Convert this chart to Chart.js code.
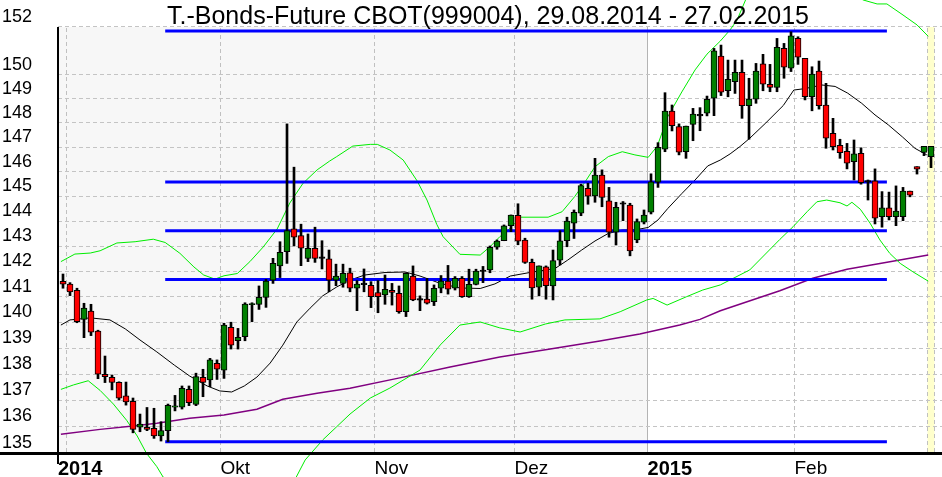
<!DOCTYPE html>
<html>
<head>
<meta charset="utf-8">
<script src="https://cdn.jsdelivr.net/npm/chart.js@4.4.1/dist/chart.umd.min.js"></script>
<style>
  html, body { margin: 0; padding: 0; background: #fff; }
  #chart { display: block; }
</style>
</head>
<body>
<canvas id="chart" width="942" height="477"></canvas>
<script>
// daily candles 29.08.2014 - 27.02.2015, one slot per trading day (0..124)
const opens = [
  141.11, 141.00, 140.76, 139.62, 139.94, 139.17, 137.50, 137.38, 137.19, 136.67,
  136.46, 135.48, 135.48, 135.44, 135.15, 135.35, 136.24, 136.24, 136.92, 136.35,
  137.38, 137.28, 137.92, 137.66, 139.31, 138.79, 138.95, 140.20, 140.21, 140.48,
  141.16, 141.72, 142.28, 143.19, 142.92, 142.02, 142.42, 142.06, 142.00, 141.16,
  141.03, 141.45, 140.84, 141.00, 140.95, 140.67, 140.58, 140.76, 140.64, 139.92,
  141.32, 140.41, 140.41, 140.31, 140.84, 141.12, 140.84, 141.23, 140.51, 140.99,
  141.52, 141.56, 142.46, 142.72, 143.32, 143.74, 142.75, 141.86, 140.88, 141.68,
  140.93, 141.95, 142.72, 143.42, 143.82, 144.82, 144.52, 145.36, 144.32, 143.06,
  144.20, 144.15, 142.75, 143.46, 143.86, 145.07, 146.41, 147.98, 147.34, 146.31,
  147.43, 147.80, 147.89, 148.51, 150.27, 148.82, 149.20, 149.59, 148.20, 148.47,
  149.94, 149.09, 148.96, 150.59, 149.76, 151.01, 150.17, 148.57, 149.64, 148.23,
  147.06, 146.57, 146.33, 145.90, 146.24, 145.12, 145.13, 143.68, 144.04, 143.68,
  143.68, 144.71, 145.70, 146.28, 146.11
];
const highs = [
  141.40, 141.06, 140.84, 140.25, 140.21, 139.20, 138.20, 137.47, 137.21, 137.20,
  136.59, 135.98, 136.23, 136.20, 135.69, 136.36, 136.69, 137.05, 137.05, 137.54,
  137.69, 138.11, 138.05, 139.47, 139.51, 139.27, 140.27, 140.27, 140.93, 141.19,
  142.02, 142.68, 147.45, 145.68, 143.38, 142.99, 143.26, 142.72, 142.35, 141.79,
  141.79, 141.63, 141.14, 141.60, 141.10, 141.14, 141.36, 141.03, 140.93, 141.45,
  141.72, 140.54, 141.23, 140.97, 141.34, 141.74, 141.30, 141.30, 141.59, 141.59,
  141.70, 142.51, 142.75, 143.35, 143.75, 144.20, 142.82, 141.99, 141.72, 141.72,
  142.35, 143.12, 143.66, 143.95, 144.99, 145.03, 146.04, 145.57, 144.86, 144.26,
  144.29, 144.22, 143.59, 143.95, 145.41, 146.68, 148.74, 148.23, 147.45, 147.36,
  148.09, 148.12, 148.60, 150.59, 150.73, 150.10, 150.10, 150.10, 149.34, 149.96,
  150.34, 149.92, 151.01, 150.80, 151.29, 151.08, 150.17, 149.82, 150.06, 149.13,
  147.68, 146.82, 146.65, 146.79, 146.47, 145.16, 145.61, 144.69, 144.67, 144.92,
  144.86, 144.71, 145.70, 146.53, 146.53
];
const lows = [
  140.84, 140.55, 139.49, 138.91, 138.99, 137.33, 137.18, 136.90, 136.51, 136.32,
  135.27, 135.31, 135.35, 135.06, 134.96, 134.93, 136.10, 136.17, 136.30, 136.30,
  136.64, 137.02, 137.30, 137.34, 138.47, 138.47, 138.79, 139.53, 140.01, 140.09,
  141.03, 141.26, 141.82, 142.51, 141.73, 141.89, 141.86, 141.60, 140.70, 140.94,
  140.88, 140.70, 139.96, 140.70, 140.08, 139.88, 140.21, 140.18, 139.86, 139.73,
  140.35, 139.96, 140.22, 140.16, 140.66, 140.61, 140.77, 140.48, 140.48, 140.97,
  141.06, 141.45, 142.38, 142.72, 143.08, 142.56, 141.82, 140.41, 140.54, 140.41,
  140.38, 141.76, 142.48, 142.81, 143.72, 144.18, 144.26, 144.08, 142.86, 142.55,
  143.52, 142.12, 142.64, 143.39, 143.79, 144.86, 146.31, 147.16, 146.18, 146.04,
  146.76, 147.17, 147.78, 147.79, 148.62, 148.57, 148.71, 147.68, 146.82, 148.30,
  148.82, 148.78, 148.78, 149.34, 149.62, 149.92, 148.44, 147.99, 148.06, 146.45,
  146.38, 146.04, 145.61, 145.16, 144.99, 144.35, 143.39, 143.26, 143.55, 143.32,
  143.52, 144.48, 145.40, 146.15, 145.66
];
const closes = [
  141.00, 140.70, 139.53, 140.06, 139.12, 137.50, 137.41, 137.19, 136.58, 136.44,
  135.40, 135.60, 135.40, 135.15, 135.35, 136.31, 136.29, 136.96, 136.41, 137.41,
  137.19, 138.05, 137.69, 139.40, 138.62, 138.92, 140.22, 140.24, 140.48, 141.12,
  141.82, 142.26, 143.12, 142.86, 142.42, 142.42, 142.02, 142.04, 141.16, 141.32,
  141.43, 140.84, 141.00, 141.02, 140.51, 140.51, 140.80, 140.68, 139.92, 141.43,
  140.38, 140.39, 140.25, 140.84, 141.12, 140.80, 141.23, 140.51, 140.99, 141.52,
  141.54, 142.46, 142.71, 143.31, 143.75, 142.70, 141.86, 140.85, 141.72, 140.94,
  141.93, 142.72, 143.50, 143.86, 144.93, 144.51, 145.36, 144.46, 143.06, 144.06,
  144.22, 142.31, 143.48, 143.75, 145.09, 146.49, 147.98, 147.38, 146.29, 147.36,
  147.85, 147.82, 148.46, 150.49, 148.76, 149.30, 149.59, 148.20, 148.47, 149.64,
  149.09, 148.96, 150.64, 149.80, 151.12, 150.22, 148.57, 149.51, 148.20, 146.86,
  146.52, 146.27, 145.84, 146.22, 145.05, 145.10, 143.62, 144.04, 143.68, 143.91,
  144.71, 144.55, 145.60, 146.53, 146.53
];

// indicator lines as [slot, price]
const sma20 = [
  [-0.3, 139.40], [1, 139.60], [3.9, 139.68], [6.7, 139.60], [8.9, 139.25], [11, 138.82],
  [13.4, 138.36], [15.9, 137.85], [18.1, 137.43], [20.6, 137.05], [22.4, 136.86], [24.1, 136.82],
  [25.9, 137.05], [27.7, 137.39], [29.6, 137.93], [31.4, 138.62], [33.4, 139.52], [35.3, 140.06],
  [37.1, 140.54], [39.1, 140.89], [41, 141.16], [43.1, 141.36], [46, 141.46], [48.9, 141.48],
  [51, 141.32], [53.9, 141.03], [56.7, 140.85], [59.6, 140.83], [61.7, 141.01], [63.9, 141.32],
  [66.7, 141.46], [70.3, 141.62], [72.1, 141.95], [74.1, 142.35], [76, 142.71], [77.9, 143.01],
  [79.9, 143.15], [81.7, 143.15], [83.6, 143.25], [85, 143.55], [86.4, 144.01], [88.4, 144.61],
  [90.3, 145.16], [92.1, 145.73], [93.9, 145.97], [95.3, 146.22], [96.7, 146.52], [98.1, 146.86],
  [100.4, 147.49], [102.9, 148.21], [104.4, 148.85], [106, 148.91], [108.4, 149.06], [110.3, 149.00],
  [112.1, 148.72], [114.1, 148.30], [116, 147.82], [117.9, 147.41], [119.9, 146.92], [121.7, 146.45],
  [123.4, 146.18]
];
const bbUpper = [
  [-0.3, 141.89], [1.7, 142.19], [3.9, 142.23], [5.3, 142.32], [7.7, 142.63], [10.3, 142.68],
  [12.9, 142.78], [14.6, 142.65], [16.7, 142.22], [18.7, 141.68], [20.1, 141.36], [21.7, 141.20],
  [23, 141.33], [24.9, 141.42], [26.7, 141.89], [28.6, 142.47], [30.6, 143.19], [32.4, 144.23],
  [34.3, 145.03], [36.3, 145.57], [38.1, 145.93], [39.1, 146.11], [41.4, 146.54], [43.9, 146.61],
  [44.9, 146.61], [46.7, 146.38], [48.6, 145.97], [50.6, 145.12], [52, 144.35], [53.4, 143.37],
  [54.3, 142.88], [56.7, 142.18], [59.6, 142.15], [61, 142.48], [62.4, 142.88], [63.4, 143.08],
  [65.3, 143.66], [69.3, 143.66], [71.3, 143.88], [73.1, 144.49], [74.6, 145.09], [76, 145.70],
  [77.9, 146.11], [79.9, 146.31], [81.7, 146.18], [83.6, 146.08], [84.9, 146.54], [86.4, 147.75],
  [88.4, 148.77], [90.3, 149.69], [92, 150.35], [93.9, 150.90], [95.3, 151.37], [96.3, 151.79],
  [98.1, 153.06], [103.9, 153.92], [109.6, 153.50], [114.3, 152.64], [116.3, 152.47], [117.7, 152.47],
  [120, 152.00], [122, 151.58], [123.6, 151.10]
];
const bbLower = [
  [-0.3, 136.92], [1.5, 137.09], [3.6, 137.25], [5.3, 136.88], [7.2, 136.36], [9.1, 135.74],
  [10.6, 135.15], [11.9, 134.51], [13.4, 134.00], [14.3, 133.61], [19.6, 132.76], [26.7, 132.76],
  [33.1, 133.50], [34.6, 134.25], [37.1, 135.00], [39.1, 135.50], [41, 135.98], [43.9, 136.59],
  [46.7, 136.97], [51, 137.66], [53.9, 138.63], [56.7, 139.40], [59.6, 139.52], [62.4, 139.29],
  [65.3, 139.13], [68.9, 139.44], [71.7, 139.60], [76.7, 139.64], [79.6, 139.92], [83.4, 140.38],
  [84.3, 140.44], [86.3, 140.18], [89.1, 140.51], [91.4, 140.77], [93.9, 140.97], [98.1, 141.56],
  [102.4, 142.77], [104.3, 143.28], [106.3, 143.88], [107.7, 144.28], [109.1, 144.35], [111, 144.24],
  [112, 144.11], [112.7, 144.26], [113.9, 143.98], [115.3, 143.42], [116.7, 142.75], [118.1, 142.22],
  [119.6, 141.82], [121.4, 141.49], [123.6, 141.12]
];
const sma200 = [
  [-0.3, 135.22], [5.3, 135.40], [10, 135.53], [13.4, 135.63], [18.1, 135.82], [23, 135.94],
  [27.7, 136.16], [31.4, 136.54], [36.3, 136.77], [41, 136.96], [48.1, 137.36], [55.3, 137.78],
  [62.4, 138.16], [69.6, 138.47], [76.7, 138.78], [82.4, 139.05], [88.1, 139.40], [91, 139.62],
  [93.9, 139.96], [102.4, 140.74], [107.1, 141.23], [112, 141.59], [116.7, 141.82], [123.6, 142.15]
];

// high, 38.2 %, 50 %, 61.8 %, low
const levels = [151.32, 145.08, 143.12, 141.18, 134.93];
const levelFrom = 14.6, levelTo = 117.7;

const xTickValues = [-0.714, 0.5, 22.5, 44.5, 64.5, 83.5, 104.5, 123.5, 124.5];
const xTickLabels = ['2014', '', 'Okt', 'Nov', 'Dez', '2015', 'Feb', '', ''];
const yLabels = [135, 136, 137, 138, 139, 140, 141, 142, 143, 144, 145, 146, 147, 148, 149, 150, 152];
const yGrid = [135.5, 136.5, 137.5, 138.5, 139.5, 140.5, 141.5, 142.5, 143.5, 144.5, 145.5,
  146.5, 147.5, 148.5, 149.5, 151.5];

const TITLE = 'T.-Bonds-Future CBOT(999004), 29.08.2014 - 27.02.2015';
const FONT = '"Liberation Sans", Arial, sans-serif';
const LABEL_NUDGE = 0.1; // the labels sit a touch under their value

// y ticks: grid-only ticks and label-only ticks
const yTicks = yGrid.map(v => ({ value: v, label: '', grid: true }))
  .concat(yLabels.map(v => ({ value: v - LABEL_NUDGE, label: String(v), grid: false })));

const slots = opens.map((o, i) => i);
const isDoji = i => Math.abs(closes[i] - opens[i]) < 0.04;
const bodies = slots.map(i => {
  if (isDoji(i)) {
    const m = (opens[i] + closes[i]) / 2;
    return { x: i, y: [m - 0.03, m + 0.03] };
  }
  return { x: i, y: [opens[i], closes[i]] };
});
const bodyColors = slots.map(i => isDoji(i) ? '#000' : (closes[i] > opens[i] ? '#008000' : '#ff0000'));
const wicks = slots.map(i => ({ x: i, y: [lows[i], highs[i]] }));
const pts = arr => arr.map(p => ({ x: p[0], y: p[1] }));

function lineSet(data, color, width) {
  return {
    type: 'line', data: pts(data), borderColor: color, borderWidth: width,
    pointRadius: 0, tension: 0, clip: false, order: 3
  };
}

const frame = {
  id: 'frame',
  beforeDraw(chart) {
    const { ctx, chartArea: a, scales: { x } } = chart;
    ctx.save();
    ctx.fillStyle = '#fff';
    ctx.fillRect(0, 0, chart.width, chart.height);
    ctx.fillStyle = '#f7f7f7';
    const x2015 = x.getPixelForValue(83.5);
    ctx.fillRect(a.left, 27, x2015 - a.left, a.bottom - 27);
    ctx.fillStyle = '#ffffcc';
    const b1 = x.getPixelForValue(123.5), b2 = x.getPixelForValue(124.5);
    ctx.fillRect(b1, 27, b2 - b1, a.bottom - 27);
    ctx.restore();
  },
  beforeDatasetsDraw(chart) {
    const { ctx, chartArea: a } = chart;
    ctx.save();
    ctx.fillStyle = '#fff';
    ctx.fillRect(a.left, 0, a.right - a.left, 26);
    ctx.restore();
  },
  afterDraw(chart) {
    const { ctx } = chart;
    ctx.save();
    ctx.fillStyle = '#000';
    ctx.fillRect(0, 452, chart.width, 3);
    ctx.fillRect(57, 27, 2, 437);
    ctx.font = '25px ' + FONT;
    ctx.textAlign = 'center';
    ctx.textBaseline = 'alphabetic';
    ctx.fillText(TITLE, 488, 24);
    ctx.restore();
  }
};

new Chart(document.getElementById('chart'), {
  type: 'bar',
  data: {
    datasets: [
      {
        data: bodies, backgroundColor: bodyColors, borderColor: '#000', borderWidth: 1,
        borderSkipped: false, barThickness: 6, grouped: false, order: 0
      },
      {
        data: wicks, backgroundColor: '#000', borderWidth: 0,
        barThickness: 2, grouped: false, order: 1
      },
      ...levels.map(v => ({
        type: 'line', data: [{ x: levelFrom, y: v }, { x: levelTo, y: v }],
        borderColor: '#0000ff', borderWidth: 3, pointRadius: 0, order: 2
      })),
      lineSet(sma20, '#000', 1),
      lineSet(bbUpper, '#00ee00', 1),
      lineSet(bbLower, '#00ee00', 1),
      lineSet(sma200, '#800080', 1.5)
    ]
  },
  options: {
    responsive: false,
    animation: false,
    devicePixelRatio: 1,
    layout: { padding: { left: 2, top: 0, right: 0, bottom: 0 } },
    plugins: { legend: { display: false }, tooltip: { enabled: false }, title: { display: false } },
    scales: {
      x: {
        type: 'linear', min: -0.714, max: 125.57, offset: false, bounds: 'data',
        afterBuildTicks: s => { s.ticks = xTickValues.map(v => ({ value: v })); },
        afterFit: s => { s.height = 22; s.paddingLeft = 0; s.paddingRight = 0; },
        grid: {
          drawTicks: false, offset: false,
          color: c => {
            const v = c.tick ? c.tick.value : 0;
            if (v < 0) return 'rgba(0,0,0,0)';
            return v === 83.5 ? '#b4b4b4' : '#c0c0c0';
          }
        },
        border: { display: false, dash: c => (c.tick && c.tick.value === 83.5) ? [] : [4, 3] },
        ticks: {
          autoSkip: false, maxRotation: 0, align: 'start', padding: 2, color: '#000',
          font: c => (c.index === 0 || c.index === 5)
            ? { family: FONT, size: 20, weight: 'bold' }
            : { family: FONT, size: 19, weight: 'normal' },
          callback: (v, i) => xTickLabels[i]
        }
      },
      y: {
        type: 'logarithmic', position: 'left', min: 134.435, max: 152.638, bounds: 'data',
        afterBuildTicks: s => { s.ticks = yTicks.map(t => ({ value: t.value })); },
        afterFit: s => { s.width = 56; s.paddingTop = 0; s.paddingBottom = 0; },
        grid: {
          drawTicks: false,
          color: c => (yTicks[c.index] && yTicks[c.index].grid) ? '#c4c4c4' : 'rgba(0,0,0,0)'
        },
        border: { display: false, dash: [4, 3] },
        ticks: {
          autoSkip: false, crossAlign: 'far', color: '#000', font: { family: FONT, size: 18 },
          callback: (v, i) => yTicks[i] ? yTicks[i].label : ''
        }
      }
    }
  },
  plugins: [frame]
});
</script>
</body>
</html>
